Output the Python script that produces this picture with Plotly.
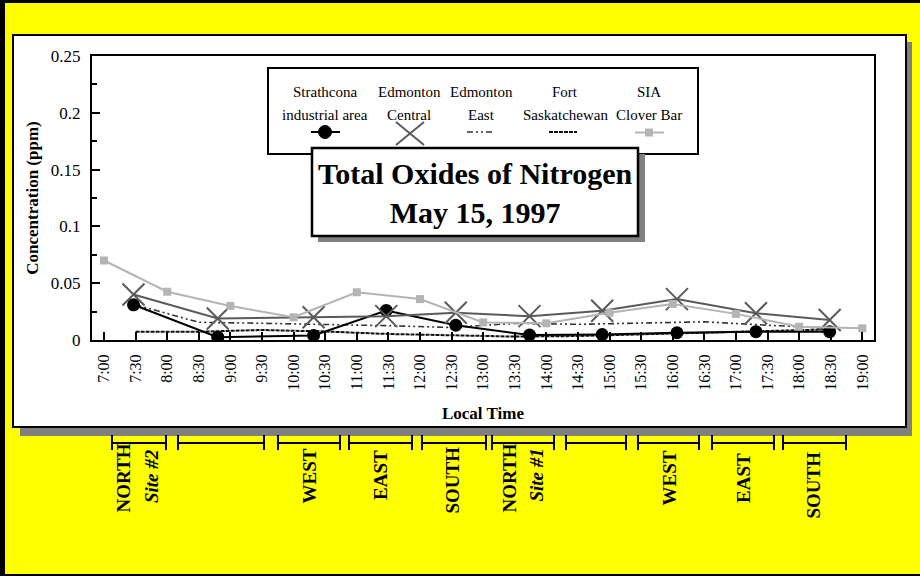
import plotly.graph_objects as go

# ---------------- DATA ----------------
tick_labels = ["7:00", "7:30", "8:00", "8:30", "9:00", "9:30", "10:00", "10:30",
               "11:00", "11:30", "12:00", "12:30", "13:00", "13:30", "14:00",
               "14:30", "15:00", "15:30", "16:00", "16:30", "17:00", "17:30",
               "18:00", "18:30", "19:00"]

# SIA Clover Bar (hourly)
sia_times = ["7:00", "8:00", "9:00", "10:00", "11:00", "12:00", "13:00",
             "14:00", "15:00", "16:00", "17:00", "18:00", "19:00"]
sia_values = [0.070, 0.0425, 0.030, 0.020, 0.042, 0.036, 0.0155,
              0.0147, 0.024, 0.0317, 0.023, 0.0117, 0.0103]

# Mobile sampling times (Strathcona industrial area / Edmonton Central)
mobile_times = ["7:28", "8:48", "10:19", "11:28", "12:34", "13:44",
                "14:53", "16:04", "17:19", "18:29"]
strathcona_values = [0.031, 0.0025, 0.004, 0.026, 0.013, 0.0044,
                     0.0048, 0.0064, 0.0073, 0.0073]
central_values = [0.040, 0.019, 0.020, 0.021, 0.024, 0.021,
                  0.0258, 0.036, 0.0235, 0.0176]

# Station hourly averages (Edmonton East / Fort Saskatchewan)
station_times = ["7:30", "8:30", "9:30", "10:30", "11:30", "12:30",
                 "13:30", "14:30", "15:30", "16:30", "17:30", "18:30"]
east_values = [0.031, 0.0156, 0.0147, 0.0138, 0.0126, 0.011,
               0.0147, 0.0138, 0.0147, 0.016, 0.013, 0.0103]
fort_values = [0.0073, 0.0073, 0.0088, 0.0075, 0.0053, 0.0044,
               0.003, 0.0035, 0.005, 0.0064, 0.0075, 0.0094]

series_names = ["Strathcona<br>industrial area", "Edmonton<br>Central",
                "Edmonton<br>East", "Fort<br>Saskatchewan", "SIA<br>Clover Bar"]

bracket_labels = [("NORTH", "Site #2"), (None, None), ("WEST", None), ("EAST", None),
                  ("SOUTH", None), ("NORTH", "Site #1"), (None, None), ("WEST", None),
                  ("EAST", None), ("SOUTH", None)]


def hours(t):
    h, m = t.split(":")
    return int(h) + int(m) / 60.0


# ---------------- LAYOUT GEOMETRY ----------------
W, H = 920, 576
L, R, T, B = 92, 874, 56, 340
FONT = "Liberation Serif, Times New Roman, serif"


def px(x):
    return (x - L) / (R - L)


def py(y):
    return (B - y) / (B - T)


fig = go.Figure()

fig.add_trace(go.Scatter(
    x=[hours(t) for t in station_times], y=fort_values, mode="lines",
    line=dict(color="#111111", width=2, dash="4px,1px"),
    name="Fort Saskatchewan", showlegend=False))
fig.add_trace(go.Scatter(
    x=[hours(t) for t in station_times], y=east_values, mode="lines",
    line=dict(color="#333333", width=1.6, dash="6px,3px,2px,3px,2px,3px"),
    name="Edmonton East", showlegend=False))
fig.add_trace(go.Scatter(
    x=[hours(t) for t in mobile_times], y=strathcona_values, mode="lines+markers",
    line=dict(color="black", width=2),
    marker=dict(symbol="circle", size=13, color="black"),
    name="Strathcona industrial area", showlegend=False))
fig.add_trace(go.Scatter(
    x=[hours(t) for t in mobile_times], y=central_values, mode="lines+markers",
    line=dict(color="#5a5a5a", width=2),
    marker=dict(symbol="x-thin", size=22, color="#5a5a5a",
                line=dict(color="#5a5a5a", width=2)),
    name="Edmonton Central", showlegend=False))
fig.add_trace(go.Scatter(
    x=[hours(t) for t in sia_times], y=sia_values, mode="lines+markers",
    line=dict(color="#b4b4b4", width=2),
    marker=dict(symbol="square", size=8, color="#b4b4b4"),
    name="SIA Clover Bar", showlegend=False))

shapes = []
# yellow page inside black frame
shapes.append(dict(type="rect", xref="paper", yref="paper",
                   x0=px(5), x1=px(921), y0=py(3), y1=py(574),
                   fillcolor="#ffff00", line=dict(width=0), layer="below"))
# panel shadow and white panel
shapes.append(dict(type="rect", xref="paper", yref="paper",
                   x0=px(20), x1=px(912), y0=py(42), y1=py(436),
                   fillcolor="#808080", line=dict(width=0), layer="below"))
shapes.append(dict(type="rect", xref="paper", yref="paper",
                   x0=px(13), x1=px(906), y0=py(35), y1=py(427),
                   fillcolor="white", line=dict(color="black", width=2), layer="below"))

# legend box
shapes.append(dict(type="rect", xref="paper", yref="paper",
                   x0=px(268), x1=px(698), y0=py(68), y1=py(154),
                   fillcolor="white", line=dict(color="black", width=2), layer="above"))
# legend keys
ky = 132
shapes.append(dict(type="line", xref="paper", yref="paper",
                   x0=px(311), x1=px(340), y0=py(ky), y1=py(ky),
                   line=dict(color="black", width=2), layer="above"))
shapes.append(dict(type="circle", xref="paper", yref="paper",
                   x0=px(318.5), x1=px(331.5), y0=py(ky - 6.5), y1=py(ky + 6.5),
                   fillcolor="black", line=dict(color="black", width=1), layer="above"))
shapes.append(dict(type="line", xref="paper", yref="paper",
                   x0=px(396), x1=px(424), y0=py(122), y1=py(145),
                   line=dict(color="#5a5a5a", width=2), layer="above"))
shapes.append(dict(type="line", xref="paper", yref="paper",
                   x0=px(396), x1=px(424), y0=py(145), y1=py(122),
                   line=dict(color="#5a5a5a", width=2), layer="above"))
shapes.append(dict(type="line", xref="paper", yref="paper",
                   x0=px(467), x1=px(494), y0=py(ky), y1=py(ky),
                   line=dict(color="#333333", width=1.6, dash="6px,3px,2px,3px,2px,3px"),
                   layer="above"))
shapes.append(dict(type="line", xref="paper", yref="paper",
                   x0=px(549), x1=px(577), y0=py(ky), y1=py(ky),
                   line=dict(color="#111111", width=2, dash="4px,1px"), layer="above"))
shapes.append(dict(type="line", xref="paper", yref="paper",
                   x0=px(635), x1=px(664), y0=py(ky + 0.5), y1=py(ky + 0.5),
                   line=dict(color="#b4b4b4", width=2), layer="above"))
shapes.append(dict(type="rect", xref="paper", yref="paper",
                   x0=px(645), x1=px(653), y0=py(ky - 3.5), y1=py(ky + 4.5),
                   fillcolor="#b4b4b4", line=dict(width=0), layer="above"))

# title box with shadow
shapes.append(dict(type="rect", xref="paper", yref="paper",
                   x0=px(318), x1=px(645), y0=py(154), y1=py(242),
                   fillcolor="#808080", line=dict(width=0), layer="above"))
shapes.append(dict(type="rect", xref="paper", yref="paper",
                   x0=px(312), x1=px(638), y0=py(148), y1=py(236),
                   fillcolor="white", line=dict(color="black", width=2.5), layer="above"))

# brackets under the panel
bracket_px = [(112, 166), (178, 264), (278, 340), (349, 412), (422, 486),
              (492, 554), (566, 626), (638, 699), (712, 774), (783, 846)]
by, bt0, bt1 = 443, 435, 450
for x0, x1 in bracket_px:
    shapes.append(dict(type="line", xref="paper", yref="paper",
                       x0=px(x0), x1=px(x1), y0=py(by), y1=py(by),
                       line=dict(color="black", width=2), layer="above"))
    for xx in (x0, x1):
        shapes.append(dict(type="line", xref="paper", yref="paper",
                           x0=px(xx), x1=px(xx), y0=py(bt0), y1=py(bt1),
                           line=dict(color="black", width=2), layer="above"))

annotations = []
# title
annotations.append(dict(xref="paper", yref="paper", x=px(475), y=py(193),
                        text="<b>Total Oxides of Nitrogen<br>May 15, 1997</b>",
                        showarrow=False, xanchor="center", yanchor="middle",
                        font=dict(family=FONT, size=30, color="black")))
# legend texts
leg_cx = [325, 409, 481, 565, 649]
for cx, name in zip(leg_cx, series_names):
    l1, l2 = name.split("<br>")
    annotations.append(dict(xref="paper", yref="paper", x=px(cx), y=py(92),
                            text=l1, showarrow=False, xanchor="center", yanchor="middle",
                            font=dict(family=FONT, size=15, color="black")))
    annotations.append(dict(xref="paper", yref="paper", x=px(cx), y=py(115),
                            text=l2, showarrow=False, xanchor="center", yanchor="middle",
                            font=dict(family=FONT, size=15, color="black")))

# bracket labels
main_pos = [(123, 442), None, (309, 447), (380, 448), (452, 445),
            (509, 442), None, (669, 449), (743, 451), (813, 450)]
sub_pos = [(151, 447), None, None, None, None, (536, 447), None, None, None, None]
for (main, sub), mp, sp in zip(bracket_labels, main_pos, sub_pos):
    if main:
        annotations.append(dict(xref="paper", yref="paper", x=px(mp[0]), y=py(mp[1]),
                                text="<b>%s</b>" % main, textangle=-90, showarrow=False,
                                xanchor="center", yanchor="top",
                                font=dict(family=FONT, size=19, color="black")))
    if sub:
        annotations.append(dict(xref="paper", yref="paper", x=px(sp[0]), y=py(sp[1]),
                                text="<b><i>%s</i></b>" % sub, textangle=-90, showarrow=False,
                                xanchor="center", yanchor="top",
                                font=dict(family=FONT, size=19, color="black")))

fig.update_layout(
    width=W, height=H,
    margin=dict(l=L, r=W - R, t=T, b=H - B, pad=0),
    paper_bgcolor="black", plot_bgcolor="white",
    font=dict(family=FONT, color="black"),
    showlegend=False,
    shapes=shapes, annotations=annotations,
    xaxis=dict(range=[6.81, 19.185], tickmode="array",
               tickvals=[hours(t) for t in tick_labels], ticktext=tick_labels,
               tickangle=-90, ticks="inside", ticklen=8, tickwidth=2, tickcolor="black",
               tickfont=dict(family=FONT, size=16, color="black"),
               showline=True, linecolor="black", linewidth=2, mirror=True,
               showgrid=False, zeroline=False, ticklabelstandoff=6,
               title=dict(text="<b>Local Time</b>", standoff=17,
                          font=dict(family=FONT, size=17, color="black"))),
    yaxis=dict(range=[0, 0.25], dtick=0.05, tick0=0,
               ticks="inside", ticklen=8, tickwidth=2, tickcolor="black",
               minor=dict(dtick=0.025, ticks="inside", ticklen=5, tickwidth=2, tickcolor="black"),
               tickfont=dict(family=FONT, size=17, color="black"),
               showline=True, linecolor="black", linewidth=2, mirror=True,
               showgrid=False, zeroline=False, ticklabelstandoff=6,
               title=dict(text="<b>Concentration (ppm)</b>", standoff=8,
                          font=dict(family=FONT, size=17, color="black"))),
)

fig.write_html("out.html",
               config={"displayModeBar": False},
               post_script="document.body.style.margin='0px';"
                           "document.body.style.background='black';")
